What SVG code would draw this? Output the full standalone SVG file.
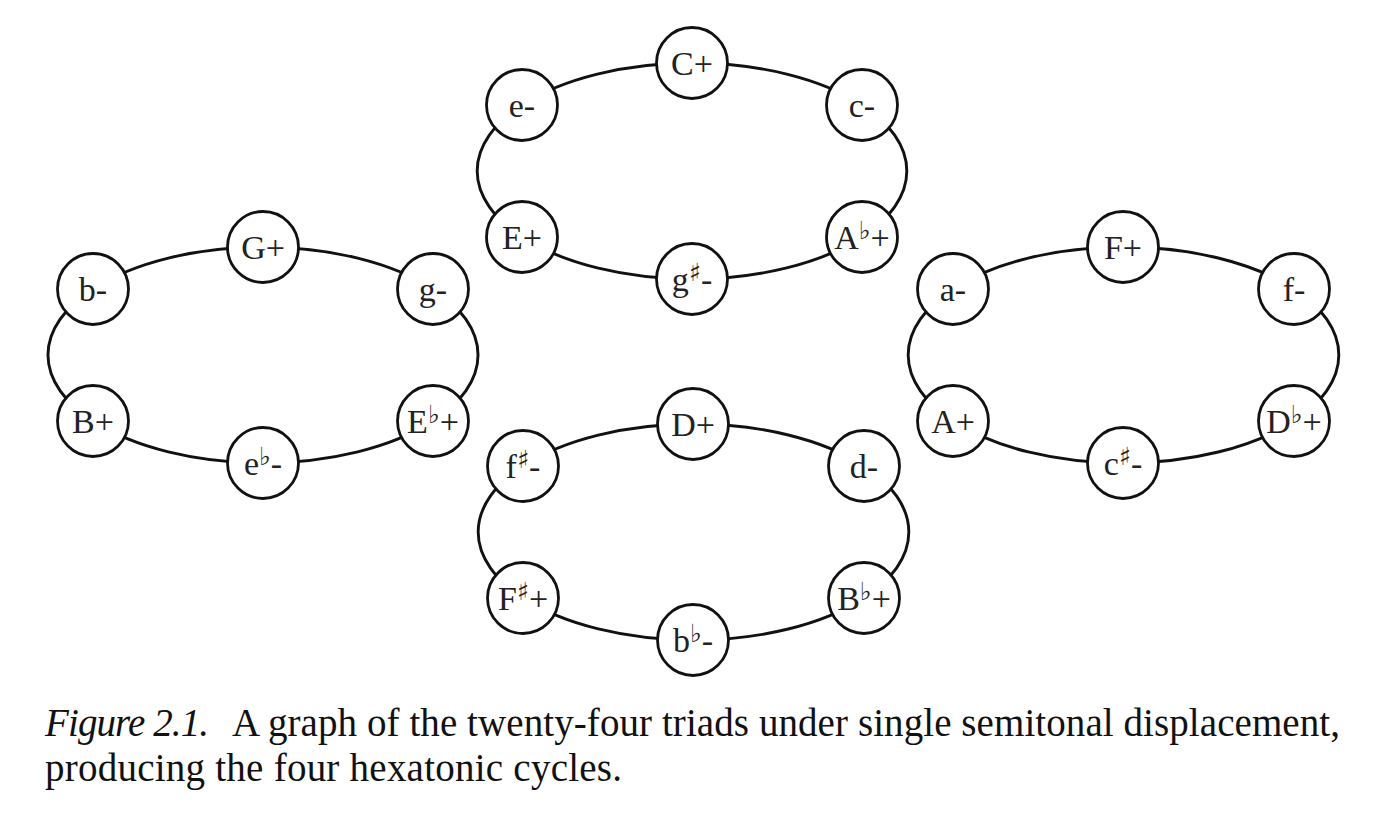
<svg xmlns="http://www.w3.org/2000/svg" width="1388" height="818" viewBox="0 0 1388 818">
<style>
.edge{fill:none;stroke:#111;stroke-width:2.9}
.node circle{fill:#fff;stroke:#111;stroke-width:2.8}
.node text{font-family:"Liberation Serif","Times New Roman",serif;font-size:34px;fill:#222;text-anchor:middle}
.acc{font-family:"DejaVu Serif","DejaVu Sans",serif;font-size:25px}
.cap{font-family:"Liberation Serif","Times New Roman",serif;font-size:39px;fill:#111}
.it{font-style:italic}
</style>
<rect width="1388" height="818" fill="#fff"/>
<g id="connectors">
<path class="edge" d="M692 63 A215 108 0 0 1 862 105"/>
<path class="edge" d="M862 105 A215 108 0 0 1 862 237"/>
<path class="edge" d="M862 237 A215 108 0 0 1 692 279"/>
<path class="edge" d="M692 279 A215 108 0 0 1 522 237"/>
<path class="edge" d="M522 237 A215 108 0 0 1 522 105"/>
<path class="edge" d="M522 105 A215 108 0 0 1 692 63"/>
<path class="edge" d="M263 247 A216 108 0 0 1 433 289"/>
<path class="edge" d="M433 289 A216 108 0 0 1 433 421"/>
<path class="edge" d="M433 421 A216 108 0 0 1 263 463"/>
<path class="edge" d="M263 463 A216 108 0 0 1 93 421"/>
<path class="edge" d="M93 421 A216 108 0 0 1 93 289"/>
<path class="edge" d="M93 289 A216 108 0 0 1 263 247"/>
<path class="edge" d="M693 424 A215 108 0 0 1 864 466"/>
<path class="edge" d="M864 466 A215 108 0 0 1 864 598"/>
<path class="edge" d="M864 598 A215 108 0 0 1 693 640"/>
<path class="edge" d="M693 640 A215 108 0 0 1 523 598"/>
<path class="edge" d="M523 598 A215 108 0 0 1 523 466"/>
<path class="edge" d="M523 466 A215 108 0 0 1 693 424"/>
<path class="edge" d="M1123 247 A215 108 0 0 1 1294 289"/>
<path class="edge" d="M1294 289 A215 108 0 0 1 1294 421"/>
<path class="edge" d="M1294 421 A215 108 0 0 1 1123 463"/>
<path class="edge" d="M1123 463 A215 108 0 0 1 953 421"/>
<path class="edge" d="M953 421 A215 108 0 0 1 953 289"/>
<path class="edge" d="M953 289 A215 108 0 0 1 1123 247"/>
</g>
<g id="n-Cmaj" class="node"><circle cx="692" cy="63" r="35.5"/><text x="692" y="75">C+</text></g>
<g id="n-cmin" class="node"><circle cx="862" cy="105" r="35.5"/><text x="862" y="117">c-</text></g>
<g id="n-Abmaj" class="node"><circle cx="862" cy="237" r="35.5"/><text x="862" y="249">A<tspan class="acc" dy="-10">♭</tspan><tspan dy="10">+</tspan></text></g>
<g id="n-gsmin" class="node"><circle cx="692" cy="279" r="35.5"/><text x="692" y="291">g<tspan class="acc" dy="-10">♯</tspan><tspan dy="10">-</tspan></text></g>
<g id="n-Emaj" class="node"><circle cx="522" cy="237" r="35.5"/><text x="522" y="249">E+</text></g>
<g id="n-emin" class="node"><circle cx="522" cy="105" r="35.5"/><text x="522" y="117">e-</text></g>
<g id="n-Gmaj" class="node"><circle cx="263" cy="247" r="35.5"/><text x="263" y="259">G+</text></g>
<g id="n-gmin" class="node"><circle cx="433" cy="289" r="35.5"/><text x="433" y="301">g-</text></g>
<g id="n-Ebmaj" class="node"><circle cx="433" cy="421" r="35.5"/><text x="433" y="433">E<tspan class="acc" dy="-10">♭</tspan><tspan dy="10">+</tspan></text></g>
<g id="n-ebmin" class="node"><circle cx="263" cy="463" r="35.5"/><text x="263" y="475">e<tspan class="acc" dy="-10">♭</tspan><tspan dy="10">-</tspan></text></g>
<g id="n-Bmaj" class="node"><circle cx="93" cy="421" r="35.5"/><text x="93" y="433">B+</text></g>
<g id="n-bmin" class="node"><circle cx="93" cy="289" r="35.5"/><text x="93" y="301">b-</text></g>
<g id="n-Dmaj" class="node"><circle cx="693" cy="424" r="35.5"/><text x="693" y="436">D+</text></g>
<g id="n-dmin" class="node"><circle cx="864" cy="466" r="35.5"/><text x="864" y="478">d-</text></g>
<g id="n-Bbmaj" class="node"><circle cx="864" cy="598" r="35.5"/><text x="864" y="610">B<tspan class="acc" dy="-10">♭</tspan><tspan dy="10">+</tspan></text></g>
<g id="n-bbmin" class="node"><circle cx="693" cy="640" r="35.5"/><text x="693" y="652">b<tspan class="acc" dy="-10">♭</tspan><tspan dy="10">-</tspan></text></g>
<g id="n-Fsmaj" class="node"><circle cx="523" cy="598" r="35.5"/><text x="523" y="610">F<tspan class="acc" dy="-10">♯</tspan><tspan dy="10">+</tspan></text></g>
<g id="n-fsmin" class="node"><circle cx="523" cy="466" r="35.5"/><text x="523" y="478">f<tspan class="acc" dy="-10">♯</tspan><tspan dy="10">-</tspan></text></g>
<g id="n-Fmaj" class="node"><circle cx="1123" cy="247" r="35.5"/><text x="1123" y="259">F+</text></g>
<g id="n-fmin" class="node"><circle cx="1294" cy="289" r="35.5"/><text x="1294" y="301">f-</text></g>
<g id="n-Dbmaj" class="node"><circle cx="1294" cy="421" r="35.5"/><text x="1294" y="433">D<tspan class="acc" dy="-10">♭</tspan><tspan dy="10">+</tspan></text></g>
<g id="n-csmin" class="node"><circle cx="1123" cy="463" r="35.5"/><text x="1123" y="475">c<tspan class="acc" dy="-10">♯</tspan><tspan dy="10">-</tspan></text></g>
<g id="n-Amaj" class="node"><circle cx="953" cy="421" r="35.5"/><text x="953" y="433">A+</text></g>
<g id="n-amin" class="node"><circle cx="953" cy="289" r="35.5"/><text x="953" y="301">a-</text></g>
<g id="caption">
<text class="cap it" x="45" y="736" textLength="164">Figure 2.1.</text>
<text class="cap" x="232" y="736" textLength="1108">A graph of the twenty-four triads under single semitonal displacement,</text>
<text class="cap" x="45" y="781" textLength="577">producing the four hexatonic cycles.</text>
</g>
</svg>
